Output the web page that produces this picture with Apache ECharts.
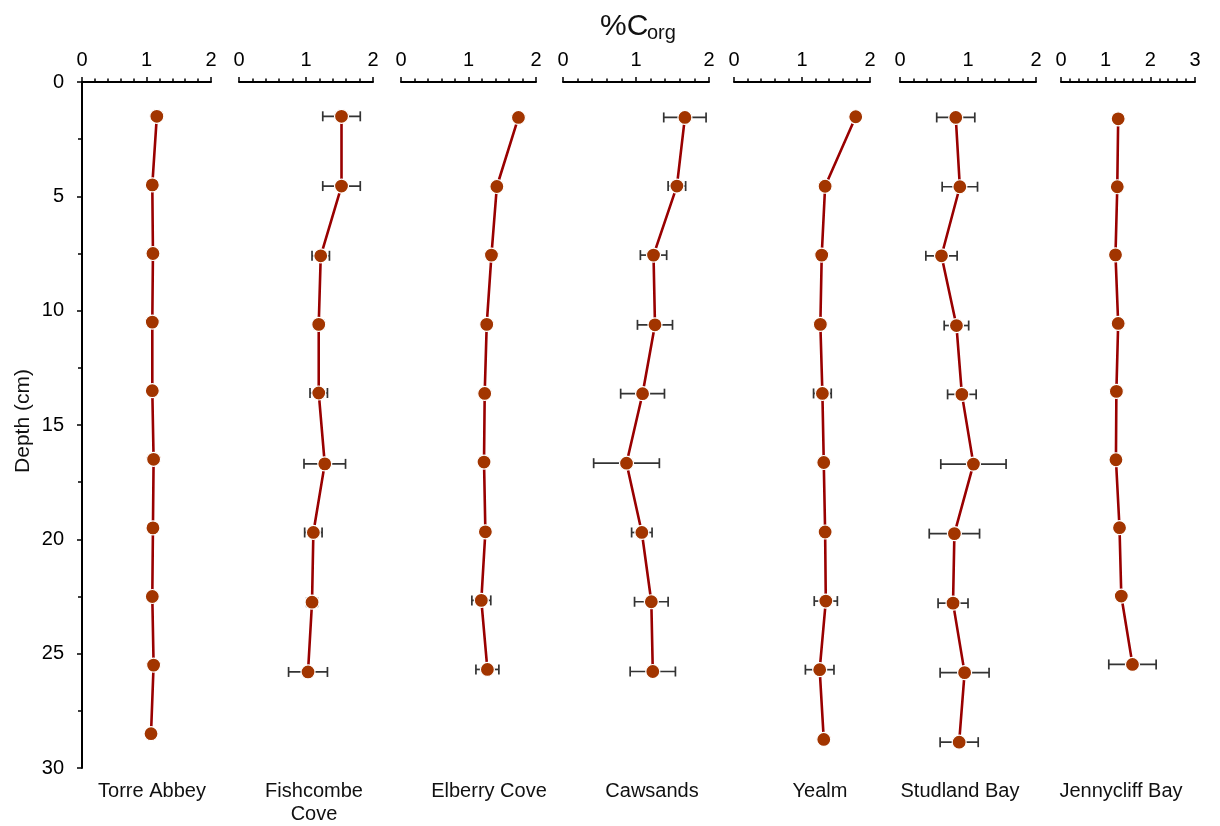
<!DOCTYPE html>
<html>
<head>
<meta charset="utf-8">
<script src="https://cdn.jsdelivr.net/npm/echarts@6/dist/echarts.min.js"></script>
<style>
html,body{margin:0;padding:0;background:#fff;}
#chart{width:1220px;height:826px;}
</style>
</head>
<body>
<div id="chart"></div>
<script>
// ---- Data ----
const sites = ['Torre Abbey', 'Fishcombe\nCove', 'Elberry Cove', 'Cawsands', 'Yealm', 'Studland Bay', 'Jennycliff Bay'];
const depthTicks = [0, 5, 10, 15, 20, 25, 30];

const torreDepth = [1.5, 4.5, 7.5, 10.5, 13.5, 16.5, 19.5, 22.5, 25.5, 28.5];
const torreCorg  = [1.16, 1.09, 1.10, 1.09, 1.09, 1.11, 1.10, 1.09, 1.11, 1.07];
const torreErr   = [0, 0.03, 0, 0, 0, 0, 0, 0, 0, 0];

const fishDepth = [1.5, 4.55, 7.6, 10.6, 13.6, 16.7, 19.7, 22.75, 25.8];
const fishCorg  = [1.53, 1.53, 1.22, 1.19, 1.19, 1.28, 1.11, 1.09, 1.03];
const fishErr   = [0.28, 0.28, 0.13, 0.07, 0.13, 0.31, 0.13, 0.08, 0.29];

const elberryDepth = [1.55, 4.57, 7.57, 10.6, 13.62, 16.62, 19.67, 22.67, 25.69];
const elberryCorg  = [1.74, 1.42, 1.34, 1.27, 1.24, 1.23, 1.25, 1.19, 1.28];
const elberryErr   = [0.02, 0, 0, 0, 0, 0, 0.03, 0.14, 0.17];

const cawDepth = [1.55, 4.55, 7.57, 10.62, 13.63, 16.67, 19.7, 22.73, 25.78];
const cawCorg  = [1.67, 1.56, 1.24, 1.26, 1.09, 0.87, 1.08, 1.21, 1.23];
const cawErr   = [0.29, 0.12, 0.18, 0.24, 0.30, 0.45, 0.14, 0.23, 0.31];

const yealmDepth = [1.52, 4.56, 7.57, 10.6, 13.62, 16.64, 19.68, 22.7, 25.7, 28.75];
const yealmCorg  = [1.79, 1.34, 1.29, 1.27, 1.30, 1.32, 1.34, 1.35, 1.26, 1.32];
const yealmErr   = [0.04, 0.05, 0, 0, 0.13, 0, 0, 0.17, 0.21, 0];

const studDepth = [1.55, 4.58, 7.6, 10.65, 13.66, 16.71, 19.75, 22.79, 25.83, 28.87];
const studCorg  = [0.82, 0.88, 0.61, 0.83, 0.91, 1.08, 0.80, 0.78, 0.95, 0.87];
const studErr   = [0.28, 0.26, 0.23, 0.18, 0.21, 0.48, 0.37, 0.22, 0.36, 0.28];

const jennyDepth = [1.61, 4.58, 7.56, 10.56, 13.53, 16.52, 19.49, 22.48, 25.47];
const jennyCorg  = [1.28, 1.26, 1.22, 1.28, 1.24, 1.23, 1.31, 1.35, 1.60];
const jennyErr   = [0, 0, 0, 0, 0, 0, 0, 0.05, 0.53];

const axisMax = [2, 2, 2, 2, 2, 2, 3];

// ---- Layout ----
const panelLeft  = [82, 239, 401, 563, 734, 900, 1061];
const panelWidth = [129, 134, 135, 146, 136, 136, 134];
const labelCenter = [152, 314, 489, 652, 820, 960, 1121];
const plotTop = 82, plotHeight = 686;
const FONT = '"Liberation Sans", Arial, Helvetica, sans-serif';

const depths = [torreDepth, fishDepth, elberryDepth, cawDepth, yealmDepth, studDepth, jennyDepth];
const corgs  = [torreCorg, fishCorg, elberryCorg, cawCorg, yealmCorg, studCorg, jennyCorg];
const errs   = [torreErr, fishErr, elberryErr, cawErr, yealmErr, studErr, jennyErr];

const grid = [], xAxis = [], yAxis = [], series = [], graphic = [];

function renderErr(params, api) {
  const e = api.value(2);
  if (!e) return null;
  const v = api.value(0);
  const y = api.coord([v, api.value(1)])[1];
  const xl = api.coord([v - e, api.value(1)])[0];
  const xr = api.coord([v + e, api.value(1)])[0];
  const h = 5;
  const st = { stroke: '#333333', lineWidth: 1.7 };
  return {
    type: 'group',
    children: [
      { type: 'line', shape: { x1: xl, y1: y, x2: xr, y2: y }, style: st },
      { type: 'line', shape: { x1: xl, y1: y - h, x2: xl, y2: y + h }, style: st },
      { type: 'line', shape: { x1: xr, y1: y - h, x2: xr, y2: y + h }, style: st }
    ]
  };
}

for (let i = 0; i < sites.length; i++) {
  grid.push({ left: panelLeft[i], width: panelWidth[i], top: plotTop, height: plotHeight });
  xAxis.push({
    gridIndex: i, type: 'value', position: 'top', min: 0, max: axisMax[i], interval: 1,
    axisLine: { show: true, lineStyle: { color: '#000', width: 2 } },
    axisTick: { show: true, length: 5, lineStyle: { color: '#000', width: 1.5 } },
    minorTick: { show: true, splitNumber: 5, length: 3.5, lineStyle: { color: '#000', width: 1.5 } },
    splitLine: { show: false },
    axisLabel: { fontSize: 20, color: '#000', fontFamily: FONT, margin: 12 }
  });
  yAxis.push({
    gridIndex: i, type: 'value', inverse: true, min: 0, max: 30, interval: 5,
    show: i === 0,
    axisLine: { show: true, lineStyle: { color: '#000', width: 2 } },
    axisTick: { show: true, length: 5, lineStyle: { color: '#000', width: 1.5 } },
    minorTick: { show: true, splitNumber: 2, length: 4, lineStyle: { color: '#000', width: 1.5 } },
    splitLine: { show: false },
    axisLabel: { fontSize: 20, color: '#000', fontFamily: FONT, margin: 18,
      formatter: v => depthTicks.indexOf(v) >= 0 ? String(v) : '' }
  });
  const pts = corgs[i].map((c, k) => [c, depths[i][k]]);
  const ebs = corgs[i].map((c, k) => [c, depths[i][k], errs[i][k]]);
  series.push({
    type: 'custom', xAxisIndex: i, yAxisIndex: i, z: 1,
    renderItem: renderErr, encode: { x: 0, y: 1 }, data: ebs, silent: true
  });
  series.push({
    type: 'line', xAxisIndex: i, yAxisIndex: i, z: 3, data: pts,
    symbol: 'circle', symbolSize: 14,
    lineStyle: { color: '#990000', width: 2.6 },
    itemStyle: { color: '#A23500', borderColor: '#ffffff', borderWidth: 1.2 },
    emphasis: { disabled: true }, animation: false
  });
  graphic.push({
    type: 'text', x: labelCenter[i], y: 780,
    style: { text: sites[i], fontSize: 20, fontFamily: FONT, fill: '#111',
      align: 'center', verticalAlign: 'top', lineHeight: 23 }
  });
}

graphic.push({
  type: 'text', x: 600, y: 27,
  style: { text: '%C', fontSize: 30, fontFamily: FONT, fill: '#111', align: 'left', verticalAlign: 'middle' }
});
graphic.push({
  type: 'text', x: 647, y: 33.5,
  style: { text: 'org', fontSize: 20, fontFamily: FONT, fill: '#111', align: 'left', verticalAlign: 'middle' }
});
graphic.push({
  type: 'text', x: 23.5, y: 421, rotation: Math.PI / 2,
  style: { text: 'Depth (cm)', fontSize: 21, fontFamily: FONT, fill: '#111', align: 'center', verticalAlign: 'middle' }
});

const chart = echarts.init(document.getElementById('chart'), null, { renderer: 'canvas' });
chart.setOption({
  backgroundColor: '#fff',
  animation: false,
  grid, xAxis, yAxis, series, graphic
});
</script>
</body>
</html>
